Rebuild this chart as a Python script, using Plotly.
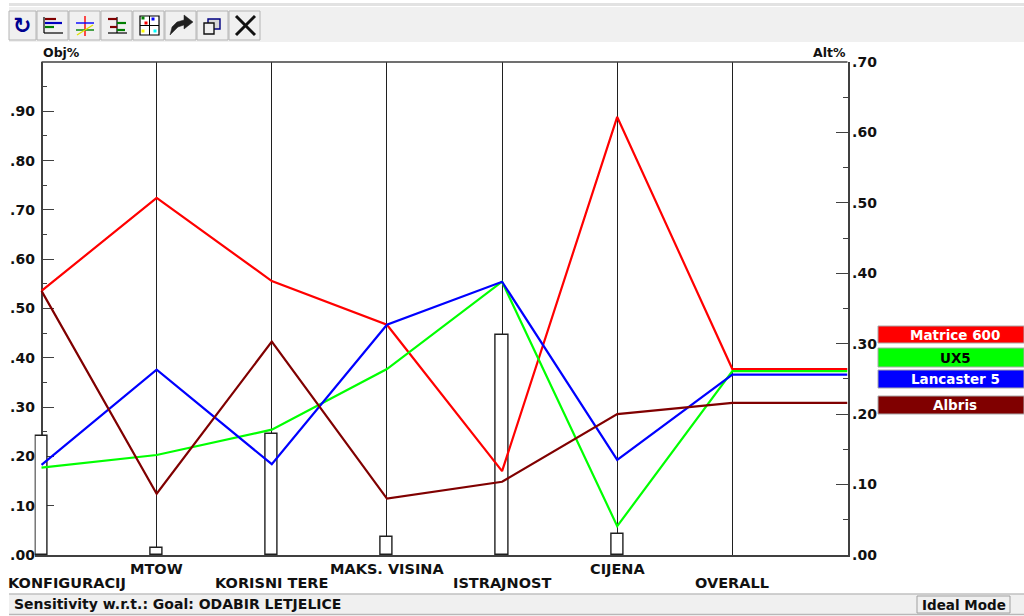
import plotly.graph_objects as go

criteria = ["KONFIGURACIJ", "MTOW", "KORISNI TERE", "MAKS. VISINA", "ISTRAJNOST", "CIJENA", "OVERALL"]
objective_weights = [0.242, 0.015, 0.245, 0.036, 0.447, 0.043]
matrice_600 = [0.375, 0.507, 0.389, 0.327, 0.119, 0.622, 0.264, 0.264]
ux5 = [0.124, 0.142, 0.178, 0.264, 0.388, 0.041, 0.261, 0.261]
lancaster_5 = [0.128, 0.263, 0.129, 0.327, 0.388, 0.135, 0.256, 0.256]
albris = [0.375, 0.087, 0.303, 0.080, 0.104, 0.200, 0.216, 0.216]
positions = [0, 1, 2, 3, 4, 5, 6, 7]
obj_ticks = [0.0, 0.1, 0.2, 0.3, 0.4, 0.5, 0.6, 0.7, 0.8, 0.9]
obj_labels = [".00", ".10", ".20", ".30", ".40", ".50", ".60", ".70", ".80", ".90"]
alt_ticks = [0.0, 0.1, 0.2, 0.3, 0.4, 0.5, 0.6, 0.7]
alt_labels = [".00", ".10", ".20", ".30", ".40", ".50", ".60", ".70"]
series_names = ["Matrice 600", "UX5", "Lancaster 5", "Albris"]
series_colors = ["#ff0000", "#00ff00", "#0000ff", "#800000"]
legend_text_colors = ["#ffffff", "#000000", "#ffffff", "#ffffff"]
legend_rows = [(326, 343), (348, 367), (370, 388), (396, 414)]

W, H = 1024, 616
FONT = "DejaVu Sans"
FRAME = "#404040"
def px(x): return x / W
def py(y): return 1 - y / H

fig = go.Figure()
fig.add_bar(x=positions[:6], y=objective_weights, width=0.105, marker=dict(color="white", line=dict(color="#202020", width=1.4)),
            cliponaxis=False, showlegend=False, hoverinfo="skip")
for name, color, vals in zip(series_names, series_colors, [matrice_600, ux5, lancaster_5, albris]):
    fig.add_scatter(x=positions, y=vals, yaxis="y2", mode="lines", name=name, line=dict(color=color, width=2.2), showlegend=False, cliponaxis=False)

shapes = []
annots = []
def rect(x0, y0, x1, y1, fill, line=None, lw=1):
    shapes.append(dict(type="rect", xref="paper", yref="paper", x0=px(x0), x1=px(x1), y0=py(y0), y1=py(y1),
                       fillcolor=fill, line=dict(color=line or fill, width=lw if line else 0), layer="above"))
def seg(x0, y0, x1, y1, color, lw=1.5):
    shapes.append(dict(type="line", xref="paper", yref="paper", x0=px(x0), x1=px(x1), y0=py(y0), y1=py(y1),
                       line=dict(color=color, width=lw), layer="above"))
def poly(pts, fill):
    d = "M " + " L ".join(f"{px(a):.5f} {py(b):.5f}" for a, b in pts) + " Z"
    shapes.append(dict(type="path", xref="paper", yref="paper", path=d, fillcolor=fill, line=dict(color=fill, width=0.5), layer="above"))
def text(x, y, s, size=13, color="#111111", anchor="center", bold=True, family=FONT, xref="paper", xshift=0):
    annots.append(dict(xref=xref, yref="paper", x=px(x) if xref == "paper" else x, y=py(y), text=f"<b>{s}</b>" if bold else s, showarrow=False,
                       xanchor=anchor, yanchor="middle", xshift=xshift, font=dict(family=family, size=size, color=color)))

# window chrome: toolbar
rect(9, 3, W, 6, "#e2e2e2")
rect(9, 7, W, 42, "#f0f0f0")
btn_edges = [9, 37, 69, 101, 133, 165, 197, 229, 261]
for a, b in zip(btn_edges[:-1], btn_edges[1:]):
    rect(a, 11, b - 1, 40, "#f0f0f0", "#b4b4b4", 1)
# toolbar icons
text(22, 25, "↻", size=22, color="#000090")
for y0, x1, c in [(19, 56, "#800000"), (23, 62, "#0000c0"), (27, 54, "#008000")]:
    seg(45, y0, x1, y0, c, 2.2)
seg(44, 17, 44, 33, "#000000", 1.2); seg(44, 33, 63, 33, "#000000", 1.2)
seg(85, 16, 85, 36, "#ff0000", 1.4); seg(76, 23, 94, 23, "#0000ff", 1.4)
seg(76, 30, 94, 30, "#008000", 1.4); seg(77, 35, 93, 25, "#e0e000", 1.4)
seg(117, 17, 117, 33, "#000000", 1.2); seg(108, 33, 127, 33, "#000000", 1.2)
for y0, x0, x1, c in [(19, 108, 117, "#800000"), (23, 117, 126, "#008000"), (27, 110, 117, "#800000"), (30, 117, 125, "#008000")]:
    seg(x0, y0, x1, y0, c, 2.2)
rect(140, 16, 159, 35, "#ffffff", "#000000", 1.2)
seg(149.5, 16, 149.5, 35, "#000000", 1); seg(140, 25.5, 159, 25.5, "#000000", 1)
for cx, cy, c in [(146, 23, "#ff0000"), (153, 19, "#0000ff"), (143, 31, "#ffff00"), (155, 31, "#00ffff"), (143, 18, "#008000")]:
    rect(cx - 1.5, cy - 1.5, cx + 1.5, cy + 1.5, c)
poly([(170, 35), (172, 27), (177, 22), (184, 20), (184, 15), (193, 22), (184, 29), (184, 25), (178, 27), (174, 31)], "#202020")
rect(208, 19, 220, 29, "#d8d8d8", "#000080", 1.4)
rect(204, 23, 214, 34, "#f0f0f0", "#111111", 1.4)
seg(236, 16, 255, 35, "#111111", 3); seg(255, 16, 236, 35, "#111111", 3)

# status bar
rect(9, 594, W, 615, "#f0f0f0")
seg(9, 594, W, 594, "#c0c0c0", 1.4)
seg(9, 614.5, W, 614.5, "#b8b8b8", 1.4)
rect(917, 596, 1010, 613, "#f0f0f0", "#a0a0a0", 1)
text(12, 604, "Sensitivity w.r.t.: Goal: ODABIR LETJELICE", size=14, anchor="left")
text(920, 605, "Ideal Mode", size=13.5, anchor="left")

# axis headings and category labels
text(41, 53, "Obj%", size=12.5, anchor="left")
text(848, 53, "Alt%", size=12.5, anchor="right")
seg(41.5, 62, 847.5, 62, FRAME, 1.6)
for i, cat in enumerate(criteria):
    y = 583 if i % 2 == 0 else 569
    text(i, y, cat, size=14.5, xref="x", xshift=25 if i == 0 else 0)

# legend
for name, c, tc, (y0, y1) in zip(series_names, series_colors, legend_text_colors, legend_rows):
    rect(878, y0, 1024, y1, c, "#a8a8a8", 1)
    text(955, (y0 + y1) / 2, name, size=13.5, color=tc)

bar_half = 0.06
fig.update_layout(
    width=W, height=H, autosize=False, margin=dict(l=0, r=0, t=0, b=0, pad=0, autoexpand=False),
    paper_bgcolor="white", plot_bgcolor="white", showlegend=False, bargap=0,
    font=dict(family=FONT, size=13, color="#111111"),
    shapes=shapes, annotations=annots,
    xaxis=dict(domain=[px(34.6), px(847.5)], range=[-bar_half, 7], tickvals=positions, showticklabels=False, ticks="",
               showgrid=True, gridcolor="#202020", gridwidth=1.3, zeroline=False, layer="below traces",
               showline=True, linecolor=FRAME, linewidth=1.6, mirror=False),
    yaxis=dict(domain=[py(555), py(62)], range=[0, 1.0], tickvals=obj_ticks, ticktext=obj_labels, anchor="free", position=px(41.5),
               ticks="inside", ticklen=12, tickwidth=1.2, tickcolor=FRAME, showgrid=False, zeroline=False, layer="below traces",
               minor=dict(dtick=0.05, ticks="inside", ticklen=5, tickwidth=1.2, tickcolor=FRAME, showgrid=False),
               showline=True, linecolor=FRAME, linewidth=1.6, tickfont=dict(family=FONT, size=14, weight="bold"), ticklabelstandoff=3),
    yaxis2=dict(domain=[py(555), py(62)], range=[0, 0.7], overlaying="y", side="right", anchor="x", tickvals=alt_ticks, ticktext=alt_labels,
                ticks="inside", ticklen=12, tickwidth=1.2, tickcolor=FRAME, showgrid=False, zeroline=False,
                minor=dict(dtick=0.05, ticks="inside", ticklen=5, tickwidth=1.2, tickcolor=FRAME, showgrid=False),
                showline=True, linecolor=FRAME, linewidth=1.6, tickfont=dict(family=FONT, size=14, weight="bold")),
)
fig.write_html("out.html", config=dict(displayModeBar=False), post_script="document.body.style.margin='0';document.body.style.overflow='hidden';")
